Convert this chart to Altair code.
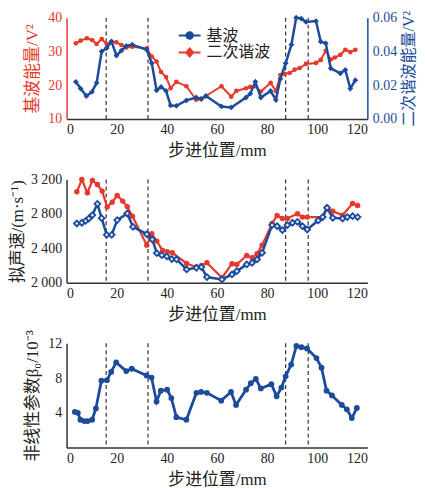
import altair as alt
import pandas as pd

RED = "#e8382b"
BLUE = "#1c4b9b"
DARK = "#333333"
FONT = "'Liberation Serif', 'Noto Sans CJK SC', serif"

x_label = "步进位置/mm"
x_ticks = [0, 20, 40, 60, 80, 100, 120]
dash_x = [15.8, 32.5, 87.4, 96.4]
legend_labels = ["基波", "二次谐波"]

# ---- top panel: energies ----
top_red_x = [3.7, 5.6, 8.1, 10.2, 12.0, 14.0, 16.0, 17.9, 19.9, 21.9, 23.8, 26.2, 32.0, 34.0, 35.9, 37.7,
             39.7, 41.5, 43.8, 47.8, 51.7, 53.7, 55.6, 61.8, 65.7, 67.7, 71.6, 73.3, 75.3, 77.5, 81.4, 83.5,
             85.3, 87.0, 89.0, 91.0, 93.0, 95.5, 99.5, 101.4, 103.4, 105.4, 107.0, 109.2, 111.2, 113.2, 115.2]
top_red_y = [32.4, 33.2, 33.9, 33.4, 32.2, 33.7, 32.2, 32.7, 32.7, 31.9, 31.2, 31.4, 30.9, 28.5, 27.0, 23.9,
             22.4, 19.1, 21.0, 19.7, 15.7, 16.0, 16.8, 19.7, 16.6, 18.3, 19.1, 19.5, 19.7, 18.1, 20.7, 18.3,
             23.0, 23.4, 23.6, 24.6, 25.1, 26.3, 26.6, 27.5, 30.2, 27.6, 28.2, 29.0, 30.5, 29.8, 30.5]
top_blue_x = [3.7, 5.6, 7.9, 10.1, 12.0, 14.0, 16.0, 17.9, 19.9, 21.9, 23.8, 26.2, 32.0, 34.0, 35.9, 37.7,
              39.7, 41.5, 43.8, 47.8, 51.7, 53.7, 55.6, 61.8, 65.7, 71.6, 73.3, 75.3, 77.5, 81.4, 83.5, 85.3,
              87.4, 89.7, 91.6, 93.6, 95.5, 99.5, 101.4, 103.4, 105.4, 109.2, 111.2, 113.2, 115.2]
top_blue_y = [0.022, 0.018, 0.0136, 0.016, 0.0214, 0.040, 0.042, 0.046, 0.0376, 0.0405, 0.0433, 0.044, 0.041,
              0.033, 0.017, 0.019, 0.0166, 0.008, 0.0078, 0.011, 0.0127, 0.0117, 0.0136, 0.0074, 0.0068, 0.0127,
              0.015, 0.022, 0.0127, 0.0166, 0.0113, 0.0238, 0.033, 0.044, 0.060, 0.0595, 0.0575, 0.058, 0.0458,
              0.0448, 0.030, 0.027, 0.029, 0.018, 0.023]

# ---- middle panel: sound velocity ----
mid_red_x = [4.1, 6.1, 8.3, 10.3, 12.3, 14.2, 16.2, 18.2, 20.2, 22.4, 24.2, 26.3, 32.0, 34.0, 36.0, 38.3, 40.2,
             42.2, 47.9, 51.8, 53.8, 56.0, 62.0, 66.0, 67.9, 71.9, 74.0, 76.0, 78.0, 82.0, 84.0, 86.1, 88.1,
             92.1, 94.1, 96.0, 102.2, 103.9, 106.2, 110.1, 114.1, 116.1]
mid_red_y = [3057, 3200, 3045, 3188, 3142, 3065, 2879, 2937, 3014, 2949, 2885, 2772, 2437, 2569, 2484, 2375, 2360,
             2348, 2224, 2182, 2201, 2232, 2058, 2221, 2213, 2317, 2290, 2337, 2437, 2689, 2782, 2747, 2747,
             2801, 2763, 2763, 2763, 2879, 2832, 2786, 2921, 2898]
mid_blue_x = [4.1, 6.1, 7.6, 8.9, 10.3, 12.3, 14.0, 16.0, 18.0, 20.2, 24.2, 26.5, 32.0, 34.2, 36.0, 38.0, 40.0,
              42.0, 43.9, 47.9, 51.8, 53.8, 56.0, 62.0, 66.0, 67.9, 71.9, 74.0, 76.0, 78.0, 82.0, 84.0, 86.1,
              88.1, 90.1, 92.1, 94.1, 96.0, 100.4, 102.2, 103.9, 106.2, 110.1, 112.0, 114.1, 116.1]
mid_blue_y = [2689, 2697, 2720, 2747, 2786, 2917, 2751, 2557, 2557, 2728, 2805, 2650, 2565, 2503, 2344, 2321, 2306,
              2275, 2271, 2155, 2174, 2182, 2066, 2039, 2097, 2135, 2213, 2232, 2271, 2348, 2670, 2658, 2612,
              2670, 2697, 2708, 2658, 2619, 2724, 2763, 2871, 2755, 2747, 2763, 2774, 2763]

# ---- bottom panel: nonlinear parameter ----
bot_x = [3.3, 4.5, 5.5, 7.1, 8.4, 10.2, 11.7, 13.9, 16.1, 17.8, 19.8, 23.8, 26.0, 31.9, 33.9, 35.9, 37.6, 40.1,
         41.8, 43.8, 47.8, 51.8, 53.7, 56.0, 61.7, 65.6, 67.6, 71.6, 73.5, 75.5, 77.5, 81.7, 83.8, 85.7, 87.4,
         89.6, 91.7, 93.7, 95.9, 99.7, 101.7, 103.7, 105.9, 109.8, 111.8, 113.8, 115.8]
bot_y = [4.1, 4.0, 3.2, 3.05, 3.05, 3.2, 4.5, 7.7, 7.75, 8.7, 9.8, 8.8, 9.07, 8.3, 8.05, 5.3, 6.55, 6.66,
         5.7, 3.5, 3.2, 6.3, 6.4, 6.3, 5.4, 6.4, 4.9, 6.66, 7.4, 7.9, 6.8, 7.3, 5.9, 6.9, 8.2,
         9.55, 11.7, 11.55, 11.4, 10.3, 9.2, 6.55, 6.0, 4.9, 4.4, 3.4, 4.55]

W = 303

CIRC = "M-2.2,0L2.2,0M0.65,0A0.65,0.65,0,1,1,-0.65,0A0.65,0.65,0,1,1,0.65,0Z"
DIAM = "M-2.2,0L2.2,0M0,-0.8L0.7,0L0,0.8L-0.7,0Z"


def x_enc():
    return alt.X("x:Q", scale=alt.Scale(domain=[0, 120], nice=False, zero=False),
                 axis=alt.Axis(values=x_ticks, title=x_label, domainColor=DARK,
                               labelColor="#222222", titleColor="#222222",
                               labelPadding=4, titlePadding=6))


def rules():
    return alt.Chart(pd.DataFrame({"x": dash_x})).mark_rule(
        strokeDash=[4, 3], color="#333333", strokeWidth=1.2).encode(x=x_enc())


def legend_layer(lx, ly):
    leg = alt.Legend(title=None, orient="none", legendX=lx, legendY=ly, symbolSize=100,
                     symbolStrokeWidth=2, labelFontSize=16, labelFont=FONT, labelOffset=9,
                     rowPadding=1, labelColor="#222222", symbolOpacity=1)
    return alt.Chart(pd.DataFrame({"label": legend_labels})).mark_point(opacity=0, filled=False).encode(
        shape=alt.Shape("label:N", scale=alt.Scale(domain=legend_labels, range=[CIRC, DIAM]), legend=leg),
        stroke=alt.Stroke("label:N", scale=alt.Scale(domain=legend_labels, range=[BLUE, RED]), legend=leg),
        fill=alt.Fill("label:N", scale=alt.Scale(domain=legend_labels, range=[BLUE, RED]), legend=leg),
    )


# top panel
top_red = alt.Chart(pd.DataFrame({"x": top_red_x, "y": top_red_y})).mark_line(
    color=RED, strokeWidth=2,
    point=alt.OverlayMarkDef(shape="circle", filled=True, size=22, color=RED)).encode(
    x=x_enc(),
    y=alt.Y("y:Q", scale=alt.Scale(domain=[10, 40], nice=False, zero=False),
            axis=alt.Axis(values=[10, 20, 30, 40], title="基波能量/V²", orient="left",
                          labelPadding=5, titlePadding=6,
                          titleColor=RED, labelColor=RED, domainColor=RED)))
top_blue = alt.Chart(pd.DataFrame({"x": top_blue_x, "y": top_blue_y})).mark_line(
    color=BLUE, strokeWidth=2.5,
    point=alt.OverlayMarkDef(shape="diamond", filled=True, size=34, color=BLUE)).encode(
    x=x_enc(),
    y=alt.Y("y:Q", scale=alt.Scale(domain=[0, 0.06], nice=False, zero=False),
            axis=alt.Axis(values=[0, 0.02, 0.04, 0.06], format=".2f", title="二次谐波能量/V²",
                          orient="right", titleAngle=270, titleBaseline="top", titlePadding=4,
                          titleFontSize=16, labelPadding=5,
                          titleColor=BLUE, labelColor=BLUE, domainColor=BLUE)))
top = alt.layer(rules(), top_red, legend_layer(116, 10), top_blue).resolve_scale(
    y="independent").properties(width=W, height=102)

# middle panel
mid_y_scale = alt.Scale(domain=[2000, 3200], nice=False, zero=False)
mid_axis = alt.Axis(values=[2000, 2400, 2800, 3200], title="拟声速/(m·s⁻¹)",
                    labelExpr="replace(format(datum.value, ','), ',', ' ')",
                    labelPadding=5, titlePadding=4,
                    domainColor=DARK, labelColor="#222222", titleColor="#222222")
mid_red = alt.Chart(pd.DataFrame({"x": mid_red_x, "y": mid_red_y})).mark_line(
    color=RED, strokeWidth=2.2,
    point=alt.OverlayMarkDef(shape="circle", filled=True, size=30, color=RED)).encode(
    x=x_enc(), y=alt.Y("y:Q", scale=mid_y_scale, axis=mid_axis))
mid_blue = alt.Chart(pd.DataFrame({"x": mid_blue_x, "y": mid_blue_y})).mark_line(
    color=BLUE, strokeWidth=2.5,
    point=alt.OverlayMarkDef(shape="diamond", filled=False, fill="#e8ecf5", size=34,
                             stroke=BLUE, strokeWidth=1.8)).encode(
    x=x_enc(), y=alt.Y("y:Q", scale=mid_y_scale, axis=mid_axis))
mid = alt.layer(rules(), mid_red, mid_blue, legend_layer(120, 17)).properties(width=W, height=104)

# bottom panel
bot = alt.layer(
    rules(),
    alt.Chart(pd.DataFrame({"x": bot_x, "y": bot_y})).mark_line(
        color=BLUE, strokeWidth=2.8,
        point=alt.OverlayMarkDef(shape="circle", filled=True, size=34, color=BLUE)).encode(
        x=x_enc(),
        y=alt.Y("y:Q", scale=alt.Scale(domain=[0, 12], nice=False, zero=True),
                axis=alt.Axis(values=[4, 8, 12], title="非线性参数β₀/10⁻³", domainColor=DARK,
                              labelPadding=5, titlePadding=6,
                              labelColor="#222222", titleColor="#222222"))),
).properties(width=W, height=105)

chart = alt.vconcat(top, mid, bot, spacing=61, bounds="flush").properties(padding=0).configure(
    font=FONT).configure_axis(
    labelFontSize=14, titleFontSize=17, titleFontWeight="normal", grid=False, ticks=False,
    domainWidth=1.5, labelFont=FONT, titleFont=FONT,
).configure_view(strokeWidth=0)

chart.save("out.html", embed_options={"renderer": "svg", "actions": False})
